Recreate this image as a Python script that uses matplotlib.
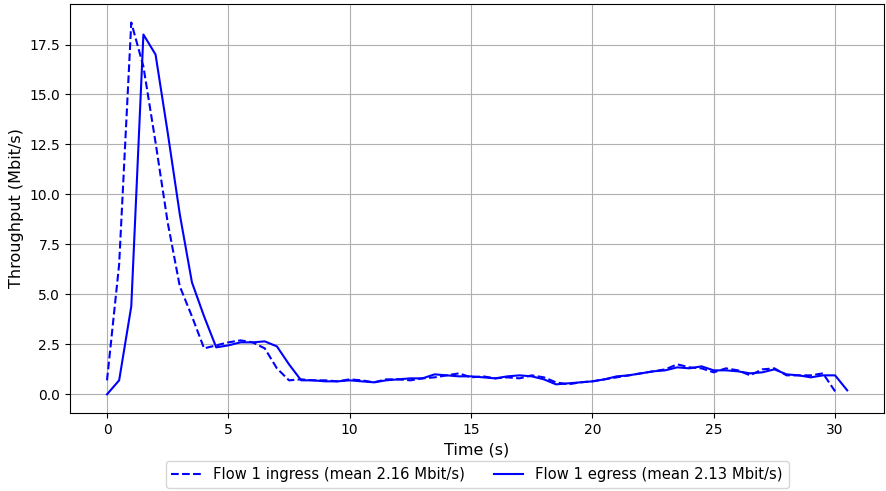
import numpy as np
import matplotlib.pyplot as plt

# throughput samples every 0.5 s
ingress_t = np.arange(0, 30.01, 0.5)
ingress = [0.7, 6.5, 18.6, 16.4, 12.6, 8.6, 5.4, 3.9, 2.3, 2.45, 2.6, 2.7, 2.6, 2.3, 1.3, 0.7,
           0.75, 0.7, 0.7, 0.65, 0.75, 0.7, 0.6, 0.75, 0.75, 0.7, 0.8, 0.85, 0.95, 1.05, 0.85, 0.9,
           0.8, 0.85, 0.8, 0.95, 0.85, 0.6, 0.5, 0.6, 0.65, 0.75, 0.85, 0.95, 1.05, 1.15, 1.25, 1.5,
           1.35, 1.3, 1.1, 1.3, 1.2, 0.95, 1.25, 1.3, 0.95, 0.95, 0.95, 1.05, 0.15]
egress_t = np.arange(0, 30.51, 0.5)
egress = [0.0, 0.7, 4.4, 18.0, 17.0, 13.1, 9.0, 5.6, 3.9, 2.35, 2.45, 2.6, 2.6, 2.65, 2.4, 1.5,
          0.7, 0.7, 0.65, 0.65, 0.7, 0.65, 0.6, 0.7, 0.75, 0.8, 0.8, 1.0, 0.95, 0.9, 0.9,
          0.85, 0.8, 0.9, 0.95, 0.9, 0.75, 0.5, 0.55, 0.6, 0.65, 0.75, 0.9, 0.95, 1.05, 1.15, 1.2,
          1.35, 1.3, 1.4, 1.2, 1.2, 1.15, 1.05, 1.1, 1.25, 1.0, 0.95, 0.85, 0.95, 0.95, 0.2]

fig, ax = plt.subplots(figsize=(8.86, 4.91), dpi=100)
ax.plot(ingress_t, ingress, color='blue', linestyle='--', label='Flow 1 ingress (mean 2.16 Mbit/s)')
ax.plot(egress_t, egress, color='blue', linestyle='-', label='Flow 1 egress (mean 2.13 Mbit/s)')
ax.set_xlabel('Time (s)', fontsize=11.5)
ax.set_ylabel('Throughput (Mbit/s)', fontsize=11.5)
ax.grid(True)
ax.legend(loc='upper center', bbox_to_anchor=(0.5, -0.10), ncol=2, fontsize=10.6)
fig.subplots_adjust(left=0.079, right=0.998, top=0.992, bottom=0.159)
fig.savefig('out.png')
